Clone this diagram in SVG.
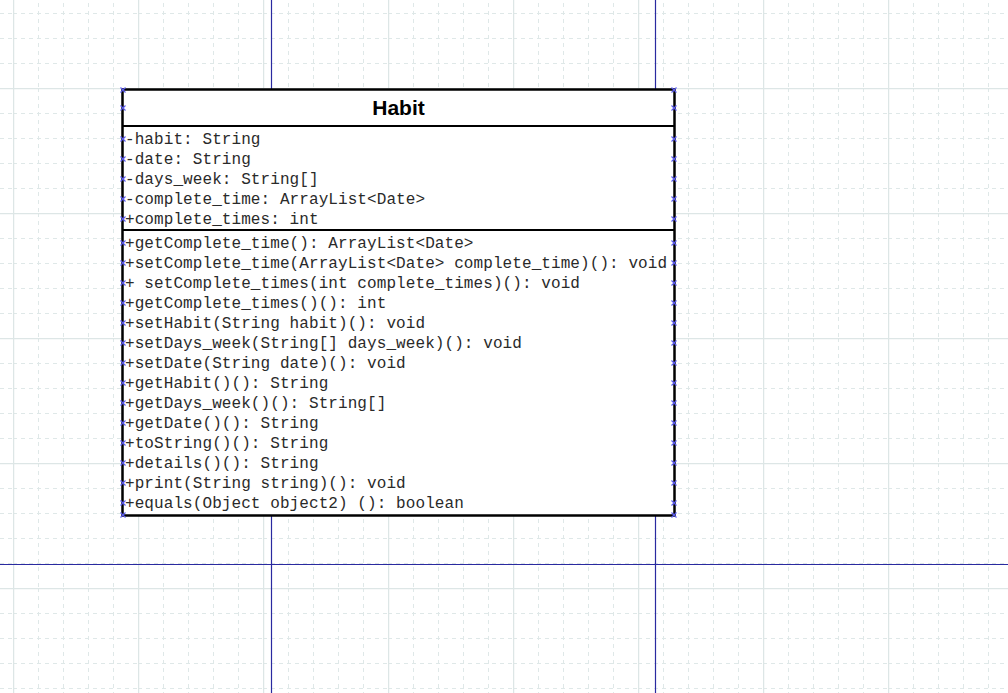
<svg xmlns="http://www.w3.org/2000/svg" width="1008" height="693" viewBox="0 0 1008 693">
<style>
.minor{stroke:#dfe8e8;stroke-width:1;stroke-dasharray:4,4}
.major{stroke:#dde6e6;stroke-width:1.5}
.guide{stroke:#2a2aa0;stroke-width:1.2}
.box{fill:#fff;stroke:#000;stroke-width:2.5}
.sep{stroke:#000;stroke-width:2}
.title{font-family:"Liberation Sans",Arial,sans-serif;font-weight:bold;font-size:21px;fill:#000}
.mem{font-family:"Liberation Mono","Courier New",monospace;font-size:16px;fill:#2a2a2a;letter-spacing:0.08px}
.mk{stroke:#5a5af0;stroke-width:1.1;fill:none}
</style>
<defs>
<pattern id="grid" patternUnits="userSpaceOnUse" x="13" y="-37" width="125" height="125">
<line class="minor" x1="25.5" y1="0" x2="25.5" y2="125"/>
<line class="minor" x1="50.5" y1="0" x2="50.5" y2="125"/>
<line class="minor" x1="75.5" y1="0" x2="75.5" y2="125"/>
<line class="minor" x1="100.5" y1="0" x2="100.5" y2="125"/>
<line class="minor" x1="0" y1="25.5" x2="125" y2="25.5"/>
<line class="minor" x1="0" y1="50.5" x2="125" y2="50.5"/>
<line class="minor" x1="0" y1="75.5" x2="125" y2="75.5"/>
<line class="minor" x1="0" y1="100.5" x2="125" y2="100.5"/>
<line class="major" x1="0.5" y1="0" x2="0.5" y2="125"/>
<line class="major" x1="0" y1="0.5" x2="125" y2="0.5"/>
</pattern>
<path id="x" class="mk" d="M-2.5,-2.5L2.5,2.5M-2.5,2.5L2.5,-2.5"/>
</defs>
<rect width="1008" height="693" fill="#fff"/>
<rect width="1008" height="693" fill="url(#grid)"/>
<g id="connectors">
<line class="guide" x1="271.5" y1="0" x2="271.5" y2="693"/>
<line class="guide" x1="655.5" y1="0" x2="655.5" y2="693"/>
<line class="guide" x1="0" y1="564.5" x2="1008" y2="564.5"/>
</g>
<g id="Habit">
<rect class="box" x="122.5" y="89.5" width="552" height="426"/>
<line class="sep" x1="122" y1="126" x2="675" y2="126"/>
<line class="sep" x1="122" y1="230" x2="675" y2="230"/>
<text class="title" x="398.5" y="115" text-anchor="middle">Habit</text>
<g class="mem">
<text x="125" y="144">-habit: String</text>
<text x="125" y="164">-date: String</text>
<text x="125" y="184">-days_week: String[]</text>
<text x="125" y="204">-complete_time: ArrayList&lt;Date&gt;</text>
<text x="125" y="224">+complete_times: int</text>
<text x="125" y="248">+getComplete_time(): ArrayList&lt;Date&gt;</text>
<text x="125" y="268">+setComplete_time(ArrayList&lt;Date&gt; complete_time)(): void</text>
<text x="125" y="288" xml:space="preserve">+ setComplete_times(int complete_times)(): void</text>
<text x="125" y="308">+getComplete_times()(): int</text>
<text x="125" y="328">+setHabit(String habit)(): void</text>
<text x="125" y="348">+setDays_week(String[] days_week)(): void</text>
<text x="125" y="368">+setDate(String date)(): void</text>
<text x="125" y="388">+getHabit()(): String</text>
<text x="125" y="408">+getDays_week()(): String[]</text>
<text x="125" y="428">+getDate()(): String</text>
<text x="125" y="448">+toString()(): String</text>
<text x="125" y="468">+details()(): String</text>
<text x="125" y="488">+print(String string)(): void</text>
<text x="125" y="508" xml:space="preserve">+equals(Object object2) (): boolean</text>
</g>
<g id="handles">
<use href="#x" x="123" y="90"/><use href="#x" x="674" y="90"/>
<use href="#x" x="123" y="108"/><use href="#x" x="674" y="108"/>
<use href="#x" x="123" y="139"/><use href="#x" x="674" y="139"/>
<use href="#x" x="123" y="159"/><use href="#x" x="674" y="159"/>
<use href="#x" x="123" y="179"/><use href="#x" x="674" y="179"/>
<use href="#x" x="123" y="199"/><use href="#x" x="674" y="199"/>
<use href="#x" x="123" y="219"/><use href="#x" x="674" y="219"/>
<use href="#x" x="123" y="243"/><use href="#x" x="674" y="243"/>
<use href="#x" x="123" y="263"/><use href="#x" x="674" y="263"/>
<use href="#x" x="123" y="283"/><use href="#x" x="674" y="283"/>
<use href="#x" x="123" y="303"/><use href="#x" x="674" y="303"/>
<use href="#x" x="123" y="323"/><use href="#x" x="674" y="323"/>
<use href="#x" x="123" y="343"/><use href="#x" x="674" y="343"/>
<use href="#x" x="123" y="363"/><use href="#x" x="674" y="363"/>
<use href="#x" x="123" y="383"/><use href="#x" x="674" y="383"/>
<use href="#x" x="123" y="403"/><use href="#x" x="674" y="403"/>
<use href="#x" x="123" y="423"/><use href="#x" x="674" y="423"/>
<use href="#x" x="123" y="443"/><use href="#x" x="674" y="443"/>
<use href="#x" x="123" y="463"/><use href="#x" x="674" y="463"/>
<use href="#x" x="123" y="483"/><use href="#x" x="674" y="483"/>
<use href="#x" x="123" y="503"/><use href="#x" x="674" y="503"/>
<use href="#x" x="123" y="515"/><use href="#x" x="674" y="515"/>
</g>
</g>
</svg>
